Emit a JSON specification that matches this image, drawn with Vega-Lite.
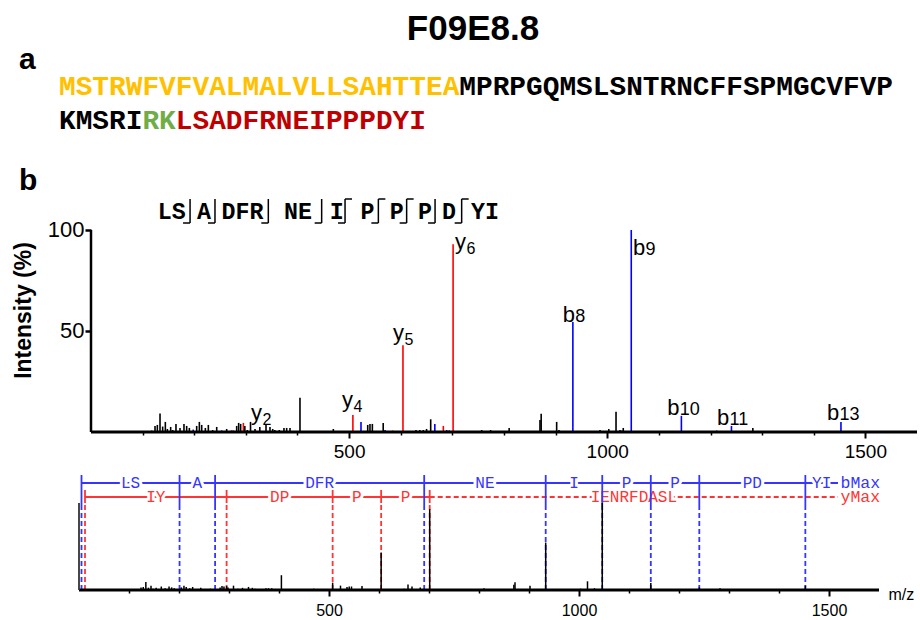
{
"$schema":"https://vega.github.io/schema/vega-lite/v6.json",
"width":920,"height":620,"autosize":{"type":"none"},"padding":0,"background":"white",
"config":{"view":{"stroke":null},"font":"Liberation Sans","axis":{"grid":false,"domain":false,"labelColor":"black","tickColor":"black","titleColor":"black","labelFont":"Liberation Sans","titleFont":"Liberation Sans"}},
"datasets":{
"peaks":[
{"mz":117.5,"int":0.7,"ion":"-"},{"mz":124,"int":3,"ion":"-"},{"mz":128.5,"int":3.5,"ion":"-"},{"mz":133.7,"int":9.2,"ion":"-"},{"mz":138.8,"int":2.7,"ion":"-"},{"mz":144,"int":5,"ion":"-"},{"mz":147.9,"int":1.5,"ion":"-"},{"mz":154.3,"int":2.5,"ion":"-"},{"mz":158.2,"int":1,"ion":"-"},{"mz":164.6,"int":4,"ion":"-"},{"mz":172.4,"int":2,"ion":"-"},{"mz":180.1,"int":4,"ion":"-"},{"mz":185.3,"int":3,"ion":"-"},{"mz":190.5,"int":2,"ion":"-"},{"mz":198,"int":1.2,"ion":"b"},{"mz":204.7,"int":3,"ion":"-"},{"mz":209.9,"int":5,"ion":"-"},{"mz":214.4,"int":3.5,"ion":"-"},{"mz":221.5,"int":2,"ion":"-"},{"mz":227.3,"int":3.5,"ion":"-"},{"mz":235.7,"int":1,"ion":"-"},{"mz":243.5,"int":2.5,"ion":"-"},{"mz":253.1,"int":0.8,"ion":"b"},{"mz":262.8,"int":1.5,"ion":"-"},{"mz":272.2,"int":0.8,"ion":"b"},{"mz":275.7,"int":0.8,"ion":"y"},{"mz":282.2,"int":3,"ion":"-"},{"mz":286,"int":4.5,"ion":"-"},{"mz":289.9,"int":4,"ion":"-"},{"mz":295.2,"int":4.5,"ion":"y"},{"mz":298,"int":3,"ion":"-"},{"mz":302.8,"int":1,"ion":"-"},{"mz":309,"int":5,"ion":"-"},{"mz":317.7,"int":1.5,"ion":"-"},{"mz":327,"int":2.5,"ion":"-"},{"mz":339,"int":3.5,"ion":"-"},{"mz":346.7,"int":2.5,"ion":"-"},{"mz":352,"int":1.5,"ion":"-"},{"mz":356,"int":1,"ion":"-"},{"mz":364.8,"int":1,"ion":"-"},{"mz":373.8,"int":2,"ion":"-"},{"mz":379,"int":2,"ion":"-"},{"mz":385.5,"int":2,"ion":"-"},{"mz":404.8,"int":17,"ion":"-"},{"mz":469.4,"int":1.5,"ion":"-"},{"mz":507.3,"int":8.4,"ion":"y"},{"mz":523,"int":5,"ion":"b"},{"mz":536,"int":3.5,"ion":"-"},{"mz":540.4,"int":4,"ion":"-"},{"mz":545,"int":4,"ion":"-"},{"mz":566,"int":4.5,"ion":"-"},{"mz":569.5,"int":1,"ion":"b"},{"mz":584.4,"int":0.7,"ion":"y"},{"mz":604.3,"int":43,"ion":"y"},{"mz":629.5,"int":1,"ion":"-"},{"mz":637,"int":1,"ion":"-"},{"mz":643.7,"int":1,"ion":"-"},{"mz":650,"int":1.5,"ion":"-"},{"mz":658,"int":6.3,"ion":"-"},{"mz":666,"int":4,"ion":"b"},{"mz":682.5,"int":3,"ion":"y"},{"mz":689,"int":1,"ion":"b"},{"mz":694,"int":0.8,"ion":"-"},{"mz":701.4,"int":93,"ion":"y"},{"mz":756.8,"int":1,"ion":"-"},{"mz":774,"int":1,"ion":"-"},{"mz":810,"int":2,"ion":"-"},{"mz":869.7,"int":6,"ion":"-"},{"mz":872,"int":9,"ion":"-"},{"mz":902,"int":5,"ion":"-"},{"mz":906.5,"int":1,"ion":"-"},{"mz":933.4,"int":54.5,"ion":"b"},{"mz":986,"int":1,"ion":"-"},{"mz":1003,"int":1.5,"ion":"-"},{"mz":1017,"int":10,"ion":"-"},{"mz":1024.7,"int":1,"ion":"-"},{"mz":1028,"int":0.7,"ion":"b"},{"mz":1031,"int":2,"ion":"-"},{"mz":1046.5,"int":100,"ion":"b"},{"mz":1143.6,"int":8,"ion":"b"},{"mz":1212,"int":0.7,"ion":"-"},{"mz":1240.6,"int":3,"ion":"b"},{"mz":1282,"int":2,"ion":"-"},{"mz":1452.7,"int":5,"ion":"b"}
],
"labels":[
{"ion":"y","n":"2","mz":310,"int":5.9},{"ion":"y","n":"4","mz":486,"int":12.4},{"ion":"y","n":"5","mz":585,"int":45.5},{"ion":"y","n":"6","mz":705,"int":90.6},
{"ion":"b","n":"8","mz":914,"int":54.5},{"ion":"b","n":"9","mz":1050,"int":87.6},{"ion":"b","n":"10","mz":1116,"int":8.4},{"ion":"b","n":"11","mz":1212.6,"int":3.5},{"ion":"b","n":"13","mz":1425.7,"int":5.9}
],
"frag":[
{"s":"b","x1":5,"x2":201.1,"lab":"LS","mid":103,"unmatched":false},
{"s":"b","x1":201.1,"x2":272.2,"lab":"A","mid":236.7,"unmatched":false},
{"s":"b","x1":272.2,"x2":690.4,"lab":"DFR","mid":481.3,"unmatched":false},
{"s":"b","x1":690.4,"x2":933.4,"lab":"NE","mid":811.9,"unmatched":false},
{"s":"b","x1":933.4,"x2":1046.5,"lab":"I","mid":990,"unmatched":false},
{"s":"b","x1":1046.5,"x2":1143.6,"lab":"P","mid":1095,"unmatched":false},
{"s":"b","x1":1143.6,"x2":1240.6,"lab":"P","mid":1192.1,"unmatched":false},
{"s":"b","x1":1240.6,"x2":1452.7,"lab":"PD","mid":1346.7,"unmatched":false},
{"s":"b","x1":1452.7,"x2":1518,"lab":"YI","mid":1485.4,"unmatched":false},
{"s":"y","x1":12,"x2":295.2,"lab":"IY","mid":153.6,"unmatched":false},
{"s":"y","x1":295.2,"x2":507.3,"lab":"DP","mid":401.3,"unmatched":false},
{"s":"y","x1":507.3,"x2":604.3,"lab":"P","mid":555.8,"unmatched":false},
{"s":"y","x1":604.3,"x2":701.4,"lab":"P","mid":652.9,"unmatched":false},
{"s":"y","x1":701.4,"x2":1518,"lab":"IENRFDASL","mid":1109.7,"unmatched":true}
],
"cuts":[
{"pos":2.29,"b":true,"y":false},{"pos":4.07,"b":true,"y":false},{"pos":7.88,"b":true,"y":false},{"pos":11.69,"b":true,"y":false},{"pos":13.36,"b":true,"y":true},{"pos":15.74,"b":true,"y":true},{"pos":17.76,"b":true,"y":true},{"pos":19.79,"b":true,"y":false},{"pos":21.69,"b":true,"y":true}
],
"one":[{"axisline":"baseline"}]
},
"resolve":{"scale":{"x":"independent","y":"independent","color":"independent"},"axis":{"x":"independent","y":"independent"}},
"layer":[
{"layer":[
 {"data":{"values":[
  {"seq":"MSTRWFVFVALMALVLLSAHTTEA","line":1,"col":1,"region":"signal peptide"},
  {"seq":"MPRPGQMSLSNTRNCFFSPMGCVFVP","line":1,"col":25,"region":"propeptide"},
  {"seq":"KMSRI","line":2,"col":1,"region":"propeptide"},
  {"seq":"RK","line":2,"col":6,"region":"cleavage site"},
  {"seq":"LSADFRNEIPPPDYI","line":2,"col":8,"region":"mature peptide"}]},
  "mark":{"type":"text","font":"Liberation Mono","fontWeight":"bold","fontSize":27.8,"align":"left","baseline":"alphabetic"},
  "encoding":{
   "x":{"field":"col","type":"quantitative","scale":{"domain":[-2.5372,52.6175],"nice":false,"zero":false},"axis":null},
   "y":{"field":"line","type":"quantitative","scale":{"domain":[-1.8088,16.4265],"nice":false,"zero":false,"reverse":true},"axis":null},
   "text":{"field":"seq"},
   "color":{"field":"region","type":"nominal","scale":{"domain":["signal peptide","propeptide","cleavage site","mature peptide"],"range":["#FFC000","#000000","#70AD47","#C00000"]},"legend":null}}},
 {"data":{"values":[{"t":"F09E8.8","col":25.82,"line":-0.647}]},
  "mark":{"type":"text","font":"Liberation Sans","fontWeight":"bold","fontSize":35,"align":"center","baseline":"alphabetic","color":"black"},
  "encoding":{
   "x":{"field":"col","type":"quantitative","scale":{"domain":[-2.5372,52.6175],"nice":false,"zero":false},"axis":null},
   "y":{"field":"line","type":"quantitative","scale":{"domain":[-1.8088,16.4265],"nice":false,"zero":false,"reverse":true},"axis":null},
   "text":{"field":"t"}}},
 {"data":{"values":[{"t":"a","col":-1.398,"line":0.221},{"t":"b","col":-1.398,"line":3.779}]},
  "mark":{"type":"text","font":"Liberation Sans","fontWeight":"bold","fontSize":30,"align":"left","baseline":"alphabetic","color":"black"},
  "encoding":{
   "x":{"field":"col","type":"quantitative","scale":{"domain":[-2.5372,52.6175],"nice":false,"zero":false},"axis":null},
   "y":{"field":"line","type":"quantitative","scale":{"domain":[-1.8088,16.4265],"nice":false,"zero":false,"reverse":true},"axis":null},
   "text":{"field":"t"}}}
]},
{"layer":[
 {"data":{"values":[{"seg":"LS","pos":0.98},{"seg":"A","pos":3.29},{"seg":"DFR","pos":6.04},{"seg":"NE","pos":10.0},{"seg":"I","pos":12.76},{"seg":"P","pos":14.96},{"seg":"P","pos":17.05},{"seg":"P","pos":19.07},{"seg":"D","pos":20.79},{"seg":"YI","pos":23.36}]},
  "mark":{"type":"text","font":"Liberation Mono","fontWeight":"bold","fontSize":23.3,"align":"center","baseline":"alphabetic","color":"black"},
  "encoding":{
   "x":{"field":"pos","type":"quantitative","scale":{"domain":[-11.2857,54.4286],"nice":false,"zero":false},"axis":null},
   "y":{"datum":0.1875,"type":"quantitative","scale":{"domain":[-16.5417,9.2917],"nice":false,"zero":false},"axis":null},
   "text":{"field":"seg"}}},
 {"data":{"name":"cuts"},
  "mark":{"type":"rule","strokeWidth":1.5,"color":"black"},
  "encoding":{
   "x":{"field":"pos","type":"quantitative","scale":{"domain":[-11.2857,54.4286],"nice":false,"zero":false},"axis":null},
   "y":{"datum":0,"type":"quantitative","scale":{"domain":[-16.5417,9.2917],"nice":false,"zero":false},"axis":null},
   "y2":{"datum":1}}},
 {"data":{"name":"cuts"},"transform":[{"filter":"datum.b"}],
  "mark":{"type":"rule","strokeWidth":1.5,"color":"black","x2Offset":-7},
  "encoding":{
   "x":{"field":"pos","type":"quantitative","scale":{"domain":[-11.2857,54.4286],"nice":false,"zero":false},"axis":null},
   "x2":{"field":"pos"},
   "y":{"datum":0,"type":"quantitative","scale":{"domain":[-16.5417,9.2917],"nice":false,"zero":false},"axis":null}}},
 {"data":{"name":"cuts"},"transform":[{"filter":"datum.y"}],
  "mark":{"type":"rule","strokeWidth":1.5,"color":"black","x2Offset":7},
  "encoding":{
   "x":{"field":"pos","type":"quantitative","scale":{"domain":[-11.2857,54.4286],"nice":false,"zero":false},"axis":null},
   "x2":{"field":"pos"},
   "y":{"datum":1,"type":"quantitative","scale":{"domain":[-16.5417,9.2917],"nice":false,"zero":false},"axis":null}}}
]},
{"layer":[
 {"data":{"name":"peaks"},
  "mark":{"type":"rule","strokeWidth":1.6},
  "encoding":{
   "x":{"field":"mz","type":"quantitative","scale":{"domain":[-176.27,1605.81],"nice":false,"zero":false},
        "axis":{"orient":"bottom","offset":-188,"values":[500,1000,1500],"format":"d","tickSize":6,"tickWidth":2,"labelFontSize":19,"labelPadding":4,"title":null,"domain":false,"grid":false}},
   "y":{"field":"int","type":"quantitative","scale":{"domain":[-93.07,213.86],"nice":false,"zero":false},
        "axis":{"orient":"left","offset":-91,"values":[50,100],"tickSize":6,"tickWidth":2.5,"labelFontSize":22,"labelPadding":1,"title":"Intensity (%)","titleFontSize":23,"titleFontWeight":"bold","titlePadding":12,"domain":false,"grid":false}},
   "y2":{"datum":0},
   "color":{"field":"ion","type":"nominal","scale":{"domain":["b","y","-"],"range":["#0000ff","#ff0000","#000000"]},"legend":null}}},
 {"data":{"name":"one"},
  "mark":{"type":"rule","strokeWidth":3,"color":"black"},
  "encoding":{
   "x":{"datum":0,"type":"quantitative","scale":{"domain":[-176.27,1605.81],"nice":false,"zero":false},"axis":null},
   "x2":{"datum":1600},
   "y":{"datum":0,"type":"quantitative","scale":{"domain":[-93.07,213.86],"nice":false,"zero":false},"axis":null}}},
 {"data":{"name":"one"},
  "mark":{"type":"rule","strokeWidth":2.5,"color":"black"},
  "encoding":{
   "x":{"datum":0,"type":"quantitative","scale":{"domain":[-176.27,1605.81],"nice":false,"zero":false},
        "axis":{"orient":"bottom","offset":-188,"values":[100,200,300,400,600,700,800,900,1100,1200,1300,1400],"tickSize":3,"tickWidth":1.5,"labels":false,"title":null,"domain":false,"grid":false}},
   "y":{"datum":0,"type":"quantitative","scale":{"domain":[-93.07,213.86],"nice":false,"zero":false},"axis":null},
   "y2":{"datum":100}}},
 {"data":{"name":"labels"},
  "mark":{"type":"text","fontSize":22,"align":"left","baseline":"alphabetic","color":"black"},
  "encoding":{
   "x":{"field":"mz","type":"quantitative","scale":{"domain":[-176.27,1605.81],"nice":false,"zero":false},"axis":null},
   "y":{"field":"int","type":"quantitative","scale":{"domain":[-93.07,213.86],"nice":false,"zero":false},"axis":null},
   "text":{"field":"ion"}}},
 {"data":{"name":"labels"},"transform":[{"filter":"datum.ion === 'y'"}],
  "mark":{"type":"text","fontSize":16,"align":"left","baseline":"alphabetic","color":"black","dx":11.5,"dy":5},
  "encoding":{
   "x":{"field":"mz","type":"quantitative","scale":{"domain":[-176.27,1605.81],"nice":false,"zero":false},"axis":null},
   "y":{"field":"int","type":"quantitative","scale":{"domain":[-93.07,213.86],"nice":false,"zero":false},"axis":null},
   "text":{"field":"n"}}},
 {"data":{"name":"labels"},"transform":[{"filter":"datum.ion === 'b'"}],
  "mark":{"type":"text","fontSize":18,"align":"left","baseline":"alphabetic","color":"black","dx":12.5,"dy":0},
  "encoding":{
   "x":{"field":"mz","type":"quantitative","scale":{"domain":[-176.27,1605.81],"nice":false,"zero":false},"axis":null},
   "y":{"field":"int","type":"quantitative","scale":{"domain":[-93.07,213.86],"nice":false,"zero":false},"axis":null},
   "text":{"field":"n"}}}
],
"resolve":{"axis":{"x":"independent","y":"independent"}}},
{"layer":[
 {"data":{"name":"frag"},"transform":[{"filter":"datum.s === 'b'"}],
  "mark":{"type":"rule","strokeWidth":1.8,"color":"#3535ff"},
  "encoding":{
   "x":{"field":"x1","type":"quantitative","scale":{"domain":[-158,1682],"nice":false,"zero":false},"axis":null},
   "x2":{"field":"x2"},
   "y":{"datum":123,"type":"quantitative","scale":{"domain":[-34.483,678.161],"nice":false,"zero":false},"axis":null}}},
 {"data":{"name":"frag"},"transform":[{"filter":"datum.s === 'y' && !datum.unmatched"}],
  "mark":{"type":"rule","strokeWidth":1.8,"color":"#ff3535"},
  "encoding":{
   "x":{"field":"x1","type":"quantitative","scale":{"domain":[-158,1682],"nice":false,"zero":false},"axis":null},
   "x2":{"field":"x2"},
   "y":{"datum":106.9,"type":"quantitative","scale":{"domain":[-34.483,678.161],"nice":false,"zero":false},"axis":null}}},
 {"data":{"name":"frag"},"transform":[{"filter":"datum.unmatched"}],
  "mark":{"type":"rule","strokeWidth":1.8,"color":"#ff3535","strokeDash":[5,3]},
  "encoding":{
   "x":{"field":"x1","type":"quantitative","scale":{"domain":[-158,1682],"nice":false,"zero":false},"axis":null},
   "x2":{"field":"x2"},
   "y":{"datum":106.9,"type":"quantitative","scale":{"domain":[-34.483,678.161],"nice":false,"zero":false},"axis":null}}},
 {"data":{"name":"frag"},"transform":[{"filter":"datum.s === 'b'"}],
  "mark":{"type":"text","font":"Liberation Mono","fontSize":16,"align":"center","baseline":"middle","color":"white","stroke":"white","strokeWidth":6,"strokeJoin":"round"},
  "encoding":{
   "x":{"field":"mid","type":"quantitative","scale":{"domain":[-158,1682],"nice":false,"zero":false},"axis":null},
   "y":{"datum":123,"type":"quantitative","scale":{"domain":[-34.483,678.161],"nice":false,"zero":false},"axis":null},
   "text":{"field":"lab"}}},
 {"data":{"name":"frag"},"transform":[{"filter":"datum.s === 'y'"}],
  "mark":{"type":"text","font":"Liberation Mono","fontSize":16,"align":"center","baseline":"middle","color":"white","stroke":"white","strokeWidth":6,"strokeJoin":"round"},
  "encoding":{
   "x":{"field":"mid","type":"quantitative","scale":{"domain":[-158,1682],"nice":false,"zero":false},"axis":null},
   "y":{"datum":106.9,"type":"quantitative","scale":{"domain":[-34.483,678.161],"nice":false,"zero":false},"axis":null},
   "text":{"field":"lab"}}},
 {"data":{"name":"frag"},"transform":[{"filter":"datum.s === 'b'"}],
  "mark":{"type":"text","font":"Liberation Mono","fontSize":16,"align":"center","baseline":"middle","color":"#3535ff"},
  "encoding":{
   "x":{"field":"mid","type":"quantitative","scale":{"domain":[-158,1682],"nice":false,"zero":false},"axis":null},
   "y":{"datum":123,"type":"quantitative","scale":{"domain":[-34.483,678.161],"nice":false,"zero":false},"axis":null},
   "text":{"field":"lab"}}},
 {"data":{"name":"frag"},"transform":[{"filter":"datum.s === 'y'"}],
  "mark":{"type":"text","font":"Liberation Mono","fontSize":16,"align":"center","baseline":"middle","color":"#ff3535"},
  "encoding":{
   "x":{"field":"mid","type":"quantitative","scale":{"domain":[-158,1682],"nice":false,"zero":false},"axis":null},
   "y":{"datum":106.9,"type":"quantitative","scale":{"domain":[-34.483,678.161],"nice":false,"zero":false},"axis":null},
   "text":{"field":"lab"}}},
 {"data":{"values":[{"t":"bMax","mz":1523}]},
  "mark":{"type":"text","font":"Liberation Mono","fontSize":16.5,"align":"left","baseline":"middle","color":"#3535ff"},
  "encoding":{
   "x":{"field":"mz","type":"quantitative","scale":{"domain":[-158,1682],"nice":false,"zero":false},"axis":null},
   "y":{"datum":123,"type":"quantitative","scale":{"domain":[-34.483,678.161],"nice":false,"zero":false},"axis":null},
   "text":{"field":"t"}}},
 {"data":{"values":[{"t":"yMax","mz":1523}]},
  "mark":{"type":"text","font":"Liberation Mono","fontSize":16.5,"align":"left","baseline":"middle","color":"#ff3535"},
  "encoding":{
   "x":{"field":"mz","type":"quantitative","scale":{"domain":[-158,1682],"nice":false,"zero":false},"axis":null},
   "y":{"datum":106.9,"type":"quantitative","scale":{"domain":[-34.483,678.161],"nice":false,"zero":false},"axis":null},
   "text":{"field":"t"}}},
 {"data":{"name":"frag"},"transform":[{"filter":"datum.s === 'b'"}],
  "mark":{"type":"rule","strokeWidth":1.8,"color":"#3535ff","strokeDash":[5,3]},
  "encoding":{
   "x":{"field":"x1","type":"quantitative","scale":{"domain":[-158,1682],"nice":false,"zero":false},"axis":null},
   "y":{"datum":0,"type":"quantitative","scale":{"domain":[-34.483,678.161],"nice":false,"zero":false},"axis":null},
   "y2":{"datum":97.7}}},
 {"data":{"name":"frag"},"transform":[{"filter":"datum.s === 'y'"}],
  "mark":{"type":"rule","strokeWidth":1.8,"color":"#ff3535","strokeDash":[5,3]},
  "encoding":{
   "x":{"field":"x1","type":"quantitative","scale":{"domain":[-158,1682],"nice":false,"zero":false},"axis":null},
   "y":{"datum":0,"type":"quantitative","scale":{"domain":[-34.483,678.161],"nice":false,"zero":false},"axis":null},
   "y2":{"datum":100}}},
 {"data":{"name":"frag"},"transform":[{"filter":"datum.s === 'y'"}],
  "mark":{"type":"rule","strokeWidth":1.8,"color":"#ff3535"},
  "encoding":{
   "x":{"field":"x1","type":"quantitative","scale":{"domain":[-158,1682],"nice":false,"zero":false},"axis":null},
   "y":{"datum":100,"type":"quantitative","scale":{"domain":[-34.483,678.161],"nice":false,"zero":false},"axis":null},
   "y2":{"datum":115}}},
 {"data":{"name":"frag"},"transform":[{"filter":"datum.s === 'b'"}],
  "mark":{"type":"rule","strokeWidth":1.8,"color":"#3535ff"},
  "encoding":{
   "x":{"field":"x1","type":"quantitative","scale":{"domain":[-158,1682],"nice":false,"zero":false},"axis":null},
   "y":{"datum":97.7,"type":"quantitative","scale":{"domain":[-34.483,678.161],"nice":false,"zero":false},"axis":null},
   "y2":{"datum":132.2}}},
 {"data":{"name":"peaks"},
  "mark":{"type":"rule","strokeWidth":1.5,"color":"black"},
  "encoding":{
   "x":{"field":"mz","type":"quantitative","scale":{"domain":[-158,1682],"nice":false,"zero":false},
        "axis":{"orient":"bottom","offset":-30,"values":[500,1000,1500],"format":"d","tickSize":6,"tickWidth":2,"labelFontSize":16,"labelPadding":6,"title":"m/z","titleFontSize":16,"titleFontWeight":"normal","titleX":888,"titleY":9,"titleAlign":"left","titleBaseline":"alphabetic","titleAngle":0,"domain":false,"grid":false}},
   "y":{"field":"int","type":"quantitative","scale":{"domain":[-34.483,678.161],"nice":false,"zero":false},"axis":null},
   "y2":{"datum":0}}},
 {"data":{"name":"one"},
  "mark":{"type":"rule","strokeWidth":3,"color":"black"},
  "encoding":{
   "x":{"datum":0,"type":"quantitative","scale":{"domain":[-158,1682],"nice":false,"zero":false},"axis":null},
   "x2":{"datum":1600},
   "y":{"datum":0,"type":"quantitative","scale":{"domain":[-34.483,678.161],"nice":false,"zero":false},"axis":null}}},
 {"data":{"name":"one"},
  "mark":{"type":"rule","strokeWidth":1.8,"color":"#333333"},
  "encoding":{
   "x":{"datum":0,"type":"quantitative","scale":{"domain":[-158,1682],"nice":false,"zero":false},
        "axis":{"orient":"bottom","offset":-30,"values":[100,200,300,400,600,700,800,900,1100,1200,1300,1400],"tickSize":3,"tickWidth":1.5,"labels":false,"title":null,"domain":false,"grid":false}},
   "y":{"datum":0,"type":"quantitative","scale":{"domain":[-34.483,678.161],"nice":false,"zero":false},"axis":null},
   "y2":{"datum":100}}}
],
"resolve":{"axis":{"x":"independent","y":"independent"}}}
]
}
